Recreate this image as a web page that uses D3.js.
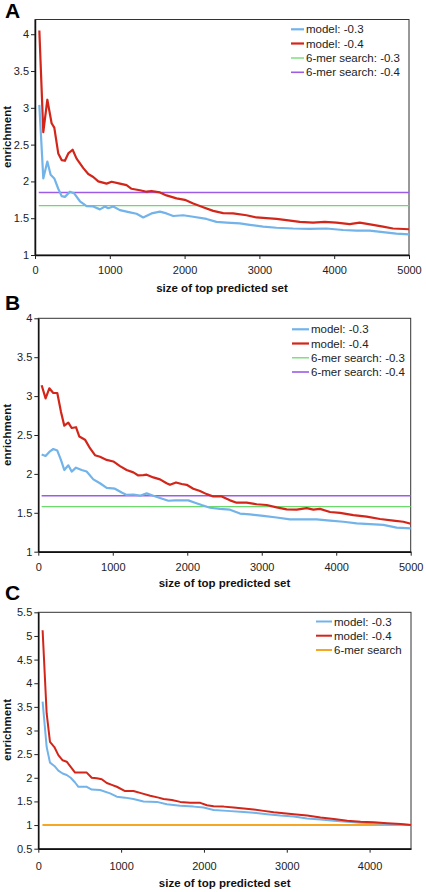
<!DOCTYPE html>
<html><head><meta charset="utf-8">
<script src="https://cdn.jsdelivr.net/npm/d3@7"></script>
<style>
html,body{margin:0;padding:0;background:#fff;}
svg{display:block;font-family:"Liberation Sans",Arial,sans-serif;}
</style></head>
<body>
<svg id="c" width="426" height="892"></svg>
<script>
// ---------- DATA ----------
// Panel A
const aModel03 = [[58,3.04],[111,2.04],[165,2.27],[209,2.09],[258,2.04],[311,1.90],[356,1.80],[400,1.79],[467,1.86],[521,1.84],[601,1.73],[690,1.665],[779,1.66],[868,1.62],[935,1.66],[979,1.635],[1046,1.66],[1135,1.61],[1269,1.58],[1358,1.56],[1447,1.51],[1558,1.565],[1670,1.59],[1758,1.565],[1848,1.53],[1981,1.54],[2115,1.52],[2293,1.49],[2426,1.45],[2560,1.44],[2738,1.43],[2871,1.41],[3050,1.385],[3228,1.37],[3450,1.36],[3673,1.355],[3896,1.36],[4118,1.34],[4296,1.33],[4474,1.33],[4652,1.31],[4830,1.29],[5000,1.28]];
const aModel04 = [[58,4.05],[111,2.67],[165,3.11],[222,2.79],[258,2.73],[311,2.38],[356,2.29],[400,2.28],[445,2.38],[503,2.43],[556,2.31],[646,2.18],[712,2.10],[779,2.06],[846,2.00],[957,1.97],[1024,1.995],[1135,1.97],[1224,1.95],[1291,1.90],[1402,1.88],[1491,1.86],[1558,1.87],[1670,1.85],[1758,1.81],[1892,1.77],[2003,1.75],[2115,1.70],[2248,1.65],[2382,1.60],[2515,1.57],[2649,1.565],[2827,1.54],[2961,1.51],[3094,1.50],[3228,1.49],[3361,1.475],[3539,1.45],[3717,1.44],[3873,1.45],[4029,1.44],[4207,1.42],[4341,1.44],[4519,1.41],[4652,1.385],[4786,1.36],[5000,1.35]];
const aSearch03 = 1.67;
const aSearch04 = 1.85;

// Panel B
const bModel03 = [[45,2.25],[98,2.23],[157,2.29],[201,2.32],[255,2.30],[304,2.18],[349,2.05],[403,2.11],[448,2.03],[506,2.08],[582,2.05],[649,2.03],[739,1.93],[828,1.88],[918,1.82],[1029,1.81],[1119,1.76],[1186,1.73],[1276,1.735],[1365,1.72],[1455,1.75],[1544,1.72],[1634,1.69],[1746,1.655],[1835,1.66],[1925,1.66],[2014,1.66],[2104,1.63],[2193,1.60],[2305,1.565],[2439,1.55],[2574,1.54],[2708,1.49],[2842,1.48],[3021,1.46],[3200,1.44],[3379,1.415],[3558,1.415],[3737,1.415],[3917,1.40],[4096,1.385],[4275,1.365],[4454,1.355],[4633,1.345],[4812,1.31],[5000,1.30]];
const bModel04 = [[45,3.14],[98,2.97],[148,3.10],[201,3.04],[255,3.04],[304,2.80],[349,2.62],[403,2.66],[448,2.59],[506,2.60],[551,2.48],[627,2.44],[694,2.33],[761,2.24],[828,2.22],[918,2.18],[1007,2.16],[1097,2.10],[1186,2.05],[1276,2.02],[1343,1.98],[1410,1.985],[1455,1.99],[1544,1.955],[1634,1.93],[1723,1.88],[1768,1.86],[1849,1.89],[1925,1.87],[1992,1.86],[2081,1.81],[2171,1.78],[2260,1.74],[2350,1.71],[2462,1.71],[2574,1.66],[2663,1.63],[2797,1.63],[2932,1.61],[3066,1.60],[3200,1.57],[3335,1.545],[3469,1.54],[3603,1.56],[3693,1.54],[3782,1.55],[3917,1.51],[4051,1.50],[4230,1.47],[4409,1.45],[4588,1.42],[4767,1.40],[4901,1.385],[5000,1.36]];
const bSearch03 = 1.58;
const bSearch04 = 1.72;

// Panel C
const cModel03 = [[52,3.61],[101,2.65],[141,2.32],[194,2.25],[242,2.15],[294,2.09],[343,2.06],[391,2.00],[444,1.90],[484,1.81],[585,1.81],[645,1.75],[746,1.74],[867,1.67],[948,1.60],[1048,1.58],[1149,1.55],[1270,1.50],[1431,1.49],[1552,1.44],[1714,1.41],[1875,1.39],[1996,1.37],[2117,1.32],[2278,1.30],[2439,1.28],[2601,1.26],[2762,1.23],[2923,1.20],[3084,1.18],[3246,1.14],[3407,1.12],[3568,1.09],[3730,1.07],[3891,1.05],[4052,1.04],[4213,1.02],[4375,1.01],[4500,1.00]];
const cModel04 = [[52,5.12],[101,3.36],[141,2.76],[194,2.65],[242,2.48],[294,2.37],[343,2.34],[391,2.23],[444,2.11],[524,2.11],[585,2.11],[645,2.00],[706,1.99],[766,1.97],[827,1.89],[887,1.85],[948,1.81],[1048,1.72],[1149,1.72],[1250,1.67],[1351,1.62],[1452,1.58],[1512,1.55],[1613,1.53],[1714,1.49],[1835,1.47],[1956,1.47],[2036,1.42],[2117,1.40],[2238,1.39],[2359,1.37],[2480,1.35],[2601,1.33],[2722,1.30],[2843,1.27],[2964,1.25],[3084,1.23],[3246,1.20],[3407,1.16],[3568,1.13],[3730,1.09],[3891,1.07],[4052,1.06],[4213,1.04],[4375,1.02],[4500,1.00]];
const cSearch = 1.0;

// Axis ticks / labels
const xTicksAB = [0,1000,2000,3000,4000,5000];
const xTicksC = [0,1000,2000,3000,4000];
const yTicksA = [1,1.5,2,2.5,3,3.5,4];
const yTicksB = [1,1.5,2,2.5,3,3.5,4];
const yTicksC = [0.5,1,1.5,2,2.5,3,3.5,4,4.5,5,5.5];
const xTitle = "size of top predicted set";
const yTitle = "enrichment";

// Colors
const colBlue = "#72b3ea", colRed = "#d3261a", colGreen = "#6bd96b", colPurple = "#9b5ce6", colOrange = "#f5a623";

// ---------- DRAW ----------
const svg = d3.select("#c");

const panels = [
  {letter:"A", ly:18, box:{l:35,t:19.5,r:409,b:255}, xd:[0,5000], yd:[1,4.2], xt:xTicksAB, yt:yTicksA,
   series:[{d:aModel03,c:colBlue,w:2.2},{d:aModel04,c:colRed,w:2.2}],
   flats:[{v:aSearch03,c:colGreen,w:1.3,x0:50,x1:5000},{v:aSearch04,c:colPurple,w:1.6,x0:50,x1:5000}],
   legend:{x1:291,x2:304,tx:306,rows:[29.3,43.5,58,72.3],items:[["model: -0.3",colBlue,2.2],["model: -0.4",colRed,2.2],["6-mer search: -0.3",colGreen,1.3],["6-mer search: -0.4",colPurple,1.6]]},
   xlabY:274, xtitleY:292, ytitleX:11, ytitleY:137},
  {letter:"B", ly:310, box:{l:38.3,t:318.3,r:410.7,b:551.7}, xd:[0,5000], yd:[1,4], xt:xTicksAB, yt:yTicksB,
   series:[{d:bModel03,c:colBlue,w:2.2},{d:bModel04,c:colRed,w:2.2}],
   flats:[{v:bSearch03,c:colGreen,w:1.3,x0:45,x1:5000},{v:bSearch04,c:colPurple,w:1.6,x0:45,x1:5000}],
   legend:{x1:292,x2:309,tx:311,rows:[329.3,343.5,357.8,372],items:[["model: -0.3",colBlue,2.2],["model: -0.4",colRed,2.2],["6-mer search: -0.3",colGreen,1.3],["6-mer search: -0.4",colPurple,1.6]]},
   xlabY:571, xtitleY:587, ytitleX:11, ytitleY:435},
  {letter:"C", ly:600, box:{l:38.3,t:612.3,r:411,b:848.7}, xd:[0,4500], yd:[0.5,5.5], xt:xTicksC, yt:yTicksC,
   series:[{d:cModel03,c:colBlue,w:2},{d:cModel04,c:colRed,w:2}],
   flats:[{v:cSearch,c:colOrange,w:2,x0:50,x1:4500}],
   legend:{x1:316,x2:332,tx:334,rows:[621.5,635.7,650],items:[["model: -0.3",colBlue,2],["model: -0.4",colRed,2],["6-mer search",colOrange,2]]},
   xlabY:870, xtitleY:887, ytitleX:11, ytitleY:730}
];

panels.forEach(p => {
  const g = svg.append("g");
  const x = d3.scaleLinear().domain(p.xd).range([p.box.l, p.box.r]);
  const y = d3.scaleLinear().domain(p.yd).range([p.box.b, p.box.t]);

  // frame
  g.append("rect").attr("x",p.box.l).attr("y",p.box.t)
    .attr("width",p.box.r-p.box.l).attr("height",p.box.b-p.box.t)
    .attr("fill","#fff").attr("stroke","#333").attr("stroke-width",1);

  // axes
  const xAxis = d3.axisBottom(x).tickValues(p.xt).tickSize(4).tickSizeOuter(0).tickFormat(d3.format("d"));
  const yAxis = d3.axisLeft(y).tickValues(p.yt).tickSize(4).tickSizeOuter(0).tickFormat(d => String(d));
  const gx = g.append("g").attr("transform",`translate(0,${p.box.b})`).call(xAxis);
  const gy = g.append("g").attr("transform",`translate(${p.box.l},0)`).call(yAxis);
  [gx,gy].forEach(a=>{
    a.select(".domain").attr("stroke","#111").attr("stroke-width",1.5);
    a.selectAll(".tick line").attr("stroke","#222");
    a.selectAll("text").attr("font-size",11).attr("fill","#222").attr("font-family","Liberation Sans, Arial, sans-serif");
  });
  gx.selectAll(".tick text").attr("y",null).attr("dy",null)
    .attr("transform",`translate(0,${p.xlabY - p.box.b})`);
  gy.selectAll(".tick text").attr("x",-6);

  // flats
  p.flats.forEach(f=>{
    g.append("line").attr("x1",x(f.x0)).attr("x2",x(f.x1)).attr("y1",y(f.v)).attr("y2",y(f.v))
      .attr("stroke",f.c).attr("stroke-width",f.w);
  });

  // series
  const line = d3.line().x(d=>x(d[0])).y(d=>y(d[1]));
  p.series.forEach(s=>{
    g.append("path").datum(s.d).attr("d",line).attr("fill","none")
      .attr("stroke",s.c).attr("stroke-width",s.w).attr("stroke-linejoin","round");
  });

  // legend
  p.legend.items.forEach((it,i)=>{
    const yy = p.legend.rows[i];
    g.append("line").attr("x1",p.legend.x1).attr("x2",p.legend.x2).attr("y1",yy).attr("y2",yy)
      .attr("stroke",it[1]).attr("stroke-width",it[2]);
    g.append("text").attr("x",p.legend.tx).attr("y",yy).attr("dy","0.35em")
      .attr("font-size",11.5).attr("fill","#222").text(it[0]);
  });

  // titles
  g.append("text").attr("x",(p.box.l+p.box.r)/2).attr("y",p.xtitleY).attr("text-anchor","middle")
    .attr("font-size",11.5).attr("font-weight","bold").attr("fill","#111").text(xTitle);
  g.append("text").attr("transform",`translate(${p.ytitleX},${p.ytitleY}) rotate(-90)`)
    .attr("text-anchor","middle").attr("font-size",11.5).attr("font-weight","bold").attr("fill","#111").text(yTitle);

  // panel letter
  g.append("text").attr("x",5).attr("y",p.ly).attr("font-size",21).attr("font-weight","bold")
    .attr("fill","#000").text(p.letter);
});
</script>
</body></html>
